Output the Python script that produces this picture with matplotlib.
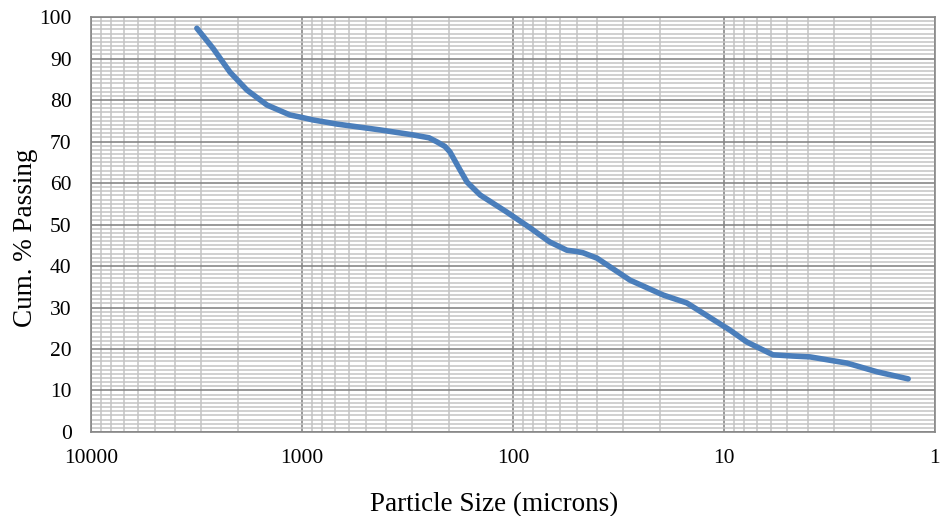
import matplotlib.pyplot as plt
from matplotlib.ticker import LogLocator, FixedLocator, NullFormatter, FixedFormatter

# particle size (microns) and cumulative % passing
size_um = [3150, 2644, 2193, 1823, 1466, 1140, 1000, 887, 682, 427, 298, 250, 229, 210,
           199, 178, 165, 143, 107, 83, 67, 55.5, 50, 46.6, 40, 27.9, 19.4, 15, 10.4, 9.4,
           7.8, 5.86, 4.71, 3.91, 2.61, 1.88, 1.34]
pct_passing = [97.3, 92.5, 86.7, 82.4, 78.8, 76.4, 75.8, 75.2, 74.2, 72.8, 71.6, 70.9, 69.9, 68.8,
               67.5, 63.1, 60.2, 57.1, 53.0, 49.2, 45.8, 43.8, 43.5, 43.2, 41.9, 36.6, 33.0, 31.1, 26.0, 24.6,
               21.7, 18.6, 18.3, 18.1, 16.6, 14.5, 12.8]

x_ticks = [10000, 1000, 100, 10, 1]
x_labels = ["10000", "1000", "100", "10", "1"]
y_ticks = list(range(0, 101, 10))

plt.rcParams['font.family'] = ['Liberation Serif', 'DejaVu Serif']

fig = plt.figure(figsize=(9.41, 5.16), dpi=100)
ax = fig.add_axes([0.0967, 0.1628, 0.8969, 0.8042])

ax.plot(size_um, pct_passing, color='#4a7ebb', lw=4.0, solid_capstyle='round',
        solid_joinstyle='round', zorder=3)

ax.set_xscale('log')
ax.set_xlim(10000, 1)
ax.set_ylim(0, 100)

ax.xaxis.set_major_locator(FixedLocator(x_ticks))
ax.xaxis.set_major_formatter(FixedFormatter(x_labels))
ax.xaxis.set_minor_locator(LogLocator(base=10, subs=range(2, 10), numticks=20))
ax.xaxis.set_minor_formatter(NullFormatter())
ax.yaxis.set_major_locator(FixedLocator(y_ticks))
ax.yaxis.set_minor_locator(FixedLocator(range(0, 101)))

ax.grid(which='major', color='#878787', lw=1.2, zorder=1)
ax.grid(which='minor', color='#c3c3c3', lw=1.1, zorder=0)
ax.set_axisbelow(True)

for s in ax.spines.values():
    s.set_color('#878787')
    s.set_linewidth(1.2)

ax.tick_params(which='both', length=0, labelsize=15.5, colors='black')
ax.tick_params(axis='x', pad=12)
ax.tick_params(axis='y', pad=14)

ax.set_xlabel('Particle Size (microns)', fontsize=19.5)
ax.set_ylabel('Cum. % Passing', fontsize=19.5)
# titles sit slightly off-centre in the original (Excel placement)
ax.xaxis.set_label_coords(0.478, -0.145)
ax.yaxis.set_label_coords(-0.063, 0.467)

fig.savefig('out.png', dpi=100)
